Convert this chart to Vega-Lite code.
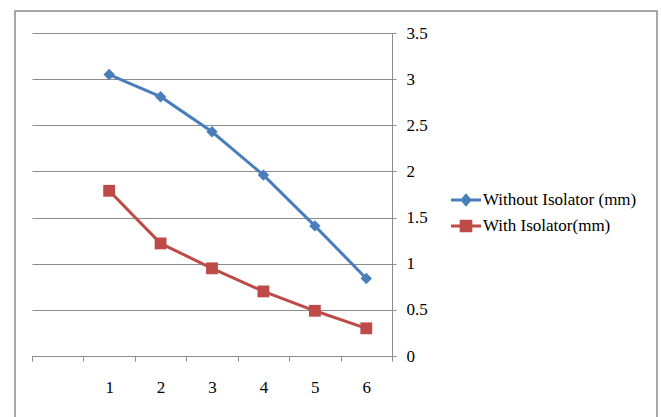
{
  "$schema": "https://vega.github.io/schema/vega-lite/v6.json",
  "width": 360,
  "height": 323,
  "autosize": "none",
  "padding": {"left": 32, "top": 33, "right": 269, "bottom": 61},
  "background": "white",
  "config": {
    "view": {"stroke": null},
    "font": "Liberation Serif",
    "axis": {"labelFont": "Liberation Serif", "labelFontSize": 17, "labelColor": "#000000"},
    "legend": {"labelFont": "Liberation Serif"}
  },
  "resolve": {"scale": {"x": "independent", "y": "independent"}},
  "layer": [
    {
      "description": "Grey chart-area frame around plot and legend",
      "data": {"values": [{}]},
      "mark": {"type": "rect", "filled": false, "stroke": "#8c8c8c", "strokeWidth": 1.5},
      "encoding": {
        "x": {"datum": -0.0472, "type": "quantitative", "scale": {"domain": [0, 1], "nice": false, "zero": false}, "axis": null},
        "x2": {"datum": 1.7361},
        "y": {"datum": 1.0681, "type": "quantitative", "scale": {"domain": [0, 1], "nice": false, "zero": false}, "axis": null},
        "y2": {"datum": -0.26}
      }
    },
    {
      "data": {
        "values": [
          {"trial": 1, "series": "Without Isolator (mm)", "value": 3.05},
          {"trial": 2, "series": "Without Isolator (mm)", "value": 2.81},
          {"trial": 3, "series": "Without Isolator (mm)", "value": 2.43},
          {"trial": 4, "series": "Without Isolator (mm)", "value": 1.96},
          {"trial": 5, "series": "Without Isolator (mm)", "value": 1.41},
          {"trial": 6, "series": "Without Isolator (mm)", "value": 0.84},
          {"trial": 1, "series": "With Isolator(mm)", "value": 1.79},
          {"trial": 2, "series": "With Isolator(mm)", "value": 1.22},
          {"trial": 3, "series": "With Isolator(mm)", "value": 0.95},
          {"trial": 4, "series": "With Isolator(mm)", "value": 0.70},
          {"trial": 5, "series": "With Isolator(mm)", "value": 0.49},
          {"trial": 6, "series": "With Isolator(mm)", "value": 0.30}
        ]
      },
      "encoding": {
        "x": {
          "field": "trial",
          "type": "ordinal",
          "scale": {"type": "band", "domain": [0, 1, 2, 3, 4, 5, 6], "paddingInner": 0, "paddingOuter": 0},
          "axis": {
            "title": null,
            "labelAngle": 0,
            "labelExpr": "datum.value === 0 ? '' : datum.label",
            "tickBand": "extent",
            "tickSize": 5,
            "tickColor": "#8c8c8c",
            "domainColor": "#8c8c8c",
            "labelFont": "Liberation Serif",
            "labelFontSize": 17,
            "labelColor": "#000000",
            "labelPadding": 18
          }
        },
        "y": {
          "field": "value",
          "type": "quantitative",
          "scale": {"domain": [0, 3.5], "nice": false, "zero": true},
          "axis": {
            "orient": "right",
            "title": null,
            "values": [0, 0.5, 1, 1.5, 2, 2.5, 3, 3.5],
            "format": "~g",
            "grid": true,
            "gridColor": "#8c8c8c",
            "gridWidth": 1,
            "domainColor": "#8c8c8c",
            "tickColor": "#8c8c8c",
            "tickSize": 4,
            "labelFont": "Liberation Serif",
            "labelFontSize": 17,
            "labelColor": "#000000",
            "labelPadding": 10
          }
        },
        "color": {
          "field": "series",
          "type": "nominal",
          "scale": {"domain": ["Without Isolator (mm)", "With Isolator(mm)"], "range": ["#4a7ebb", "#be4b48"]},
          "legend": {
            "title": null,
            "orient": "none",
            "legendX": 419,
            "legendY": 152,
            "padding": 0,
            "symbolSize": 900,
            "labelOffset": 2,
            "rowPadding": 3,
            "labelFont": "Liberation Serif",
            "labelFontSize": 17,
            "labelColor": "#000000",
            "encode": {
              "symbols": {
                "update": {
                  "shape": {"signal": "datum.value === 'With Isolator(mm)' ? 'M-1,-0.1H1V0.1H-1Z M-0.42,-0.42H0.42V0.42H-0.42Z' : 'M-1,-0.1H1V0.1H-1Z M0,-0.45L0.38,0L0,0.45L-0.38,0Z'"},
                  "fill": {"scale": "color", "field": "value"},
                  "fillOpacity": {"value": 1},
                  "strokeWidth": {"value": 0},
                  "opacity": {"value": 1}
                }
              }
            }
          }
        }
      },
      "layer": [
        {"mark": {"type": "line", "strokeWidth": 3}},
        {
          "transform": [{"filter": "datum.series === 'Without Isolator (mm)'"}],
          "mark": {"type": "point", "shape": "diamond", "filled": true, "opacity": 1, "size": 130}
        },
        {
          "transform": [{"filter": "datum.series === 'With Isolator(mm)'"}],
          "mark": {"type": "point", "shape": "square", "filled": true, "opacity": 1, "size": 140}
        }
      ]
    }
  ]
}
